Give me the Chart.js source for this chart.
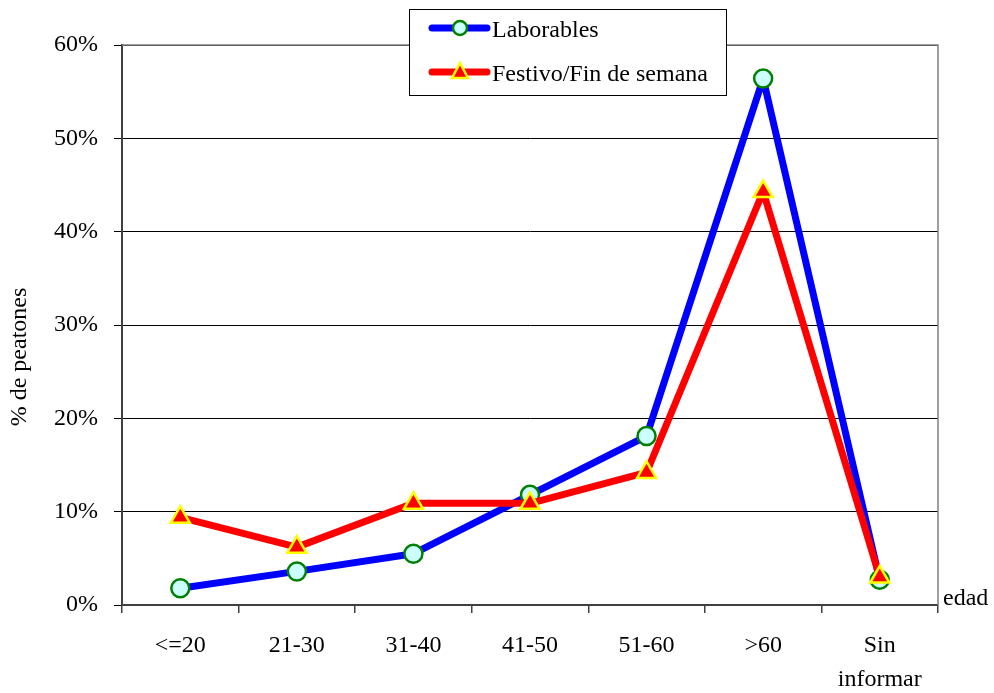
<!DOCTYPE html>
<html>
<head>
<meta charset="utf-8">
<script src="https://cdn.jsdelivr.net/npm/chart.js@4.4.1/dist/chart.umd.min.js"></script>
<style>
    html, body { margin: 0; padding: 0; background: #fff; }
    #wrap { width: 994px; height: 693px; }
</style>
</head>
<body>
<div id="wrap"><canvas id="chart" width="994" height="693"></canvas></div>
<script>
const categories   = ['<=20', '21-30', '31-40', '41-50', '51-60', '>60', ['Sin', 'informar']];
const laborables   = [1.8, 3.6, 5.5, 11.8, 18.1, 56.4, 2.7];
const festivo      = [9.4, 6.2, 10.9, 10.9, 14.2, 44.3, 3.0];
const seriesNames  = ['Laborables', 'Festivo/Fin de semana'];
const yTicks       = [0, 10, 20, 30, 40, 50, 60];

const FONT = 'Liberation Serif, Times New Roman, serif';

// plot frame, legend box and the two loose labels
const extras = {
    id: 'extras',
    afterDraw(chart) {
        const { ctx, chartArea: a } = chart;
        ctx.save();
        ctx.strokeStyle = '#808080';
        ctx.lineWidth = 1.5;
        ctx.beginPath();
        ctx.moveTo(a.left, a.top);
        ctx.lineTo(a.right, a.top);
        ctx.lineTo(a.right, a.bottom);
        ctx.stroke();

        ctx.fillStyle = '#000';
        ctx.font = '24px ' + FONT;
        ctx.textBaseline = 'middle';
        ctx.textAlign = 'left';
        ctx.fillText('edad', a.right + 5, a.bottom - 6);

        ctx.translate(20, 357);
        ctx.rotate(-Math.PI / 2);
        ctx.textAlign = 'center';
        ctx.fillText('% de peatones', 0, 0);
        ctx.restore();

        // legend
        ctx.save();
        ctx.fillStyle = '#fff';
        ctx.fillRect(409, 9, 317, 86);
        ctx.strokeStyle = '#000';
        ctx.lineWidth = 1;
        ctx.strokeRect(409.5, 9.5, 317, 86);
        chart.data.datasets.forEach((ds, i) => {
            const y = 28 + i * 44;
            ctx.strokeStyle = ds.borderColor;
            ctx.lineWidth = 7;
            ctx.lineCap = 'round';
            ctx.beginPath();
            ctx.moveTo(432, y);
            ctx.lineTo(487, y);
            ctx.stroke();
            ctx.fillStyle = ds.pointBackgroundColor;
            ctx.strokeStyle = ds.pointBorderColor;
            ctx.lineWidth = ds.pointBorderWidth;
            ctx.beginPath();
            if (ds.pointStyle === 'triangle') {
                ctx.moveTo(460, y - 9);
                ctx.lineTo(468, y + 6);
                ctx.lineTo(452, y + 6);
                ctx.closePath();
            } else {
                ctx.arc(460, y, 7, 0, Math.PI * 2);
            }
            ctx.fill();
            ctx.stroke();
            ctx.fillStyle = '#000';
            ctx.font = '24px ' + FONT;
            ctx.textAlign = 'left';
            ctx.textBaseline = 'middle';
            ctx.fillText(ds.label, 492, y + 3);
        });
        ctx.restore();
    }
};

new Chart(document.getElementById('chart'), {
    type: 'line',
    data: {
        labels: categories,
        datasets: [
            {
                label: seriesNames[0],
                data: laborables,
                borderColor: '#0000ff',
                borderWidth: 7,
                borderJoinStyle: 'round',
                pointStyle: 'circle',
                pointRadius: 9,
                pointBackgroundColor: '#ccffff',
                pointBorderColor: '#008000',
                pointBorderWidth: 2.5,
                tension: 0,
                order: 1,
            },
            {
                label: seriesNames[1],
                data: festivo,
                borderColor: '#ff0000',
                borderWidth: 7,
                borderJoinStyle: 'round',
                pointStyle: 'triangle',
                pointRadius: 11,
                pointBackgroundColor: '#ff0000',
                pointBorderColor: '#ffff00',
                pointBorderWidth: 2.5,
                tension: 0,
                order: 0,
            },
        ],
    },
    options: {
        responsive: false,
        animation: false,
        layout: { padding: { top: 45, right: 56, left: 0, bottom: 0 } },
        plugins: { legend: { display: false }, tooltip: { enabled: false } },
        scales: {
            x: {
                offset: true,
                grid: { offset: true, drawOnChartArea: false, drawTicks: true, tickLength: 8, color: '#404040', lineWidth: 1.5 },
                border: { color: '#404040', width: 2 },
                ticks: { color: '#000', font: { family: FONT, size: 24, lineHeight: 1.45 }, padding: 15, maxRotation: 0, autoSkip: false },
                afterFit(scale) { scale.height = 88; },
            },
            y: {
                min: 0,
                max: 60,
                afterBuildTicks(scale) { scale.ticks = yTicks.map(v => ({ value: v })); },
                grid: { color: '#000', lineWidth: 1, tickLength: 8, drawTicks: true },
                border: { color: '#404040', width: 2 },
                ticks: {
                    color: '#000',
                    font: { family: FONT, size: 24 },
                    padding: 16,
                    callback: v => v + '%',
                },
                afterFit(scale) { scale.width = 122; },
            },
        },
    },
    plugins: [extras],
});
</script>
</body>
</html>
